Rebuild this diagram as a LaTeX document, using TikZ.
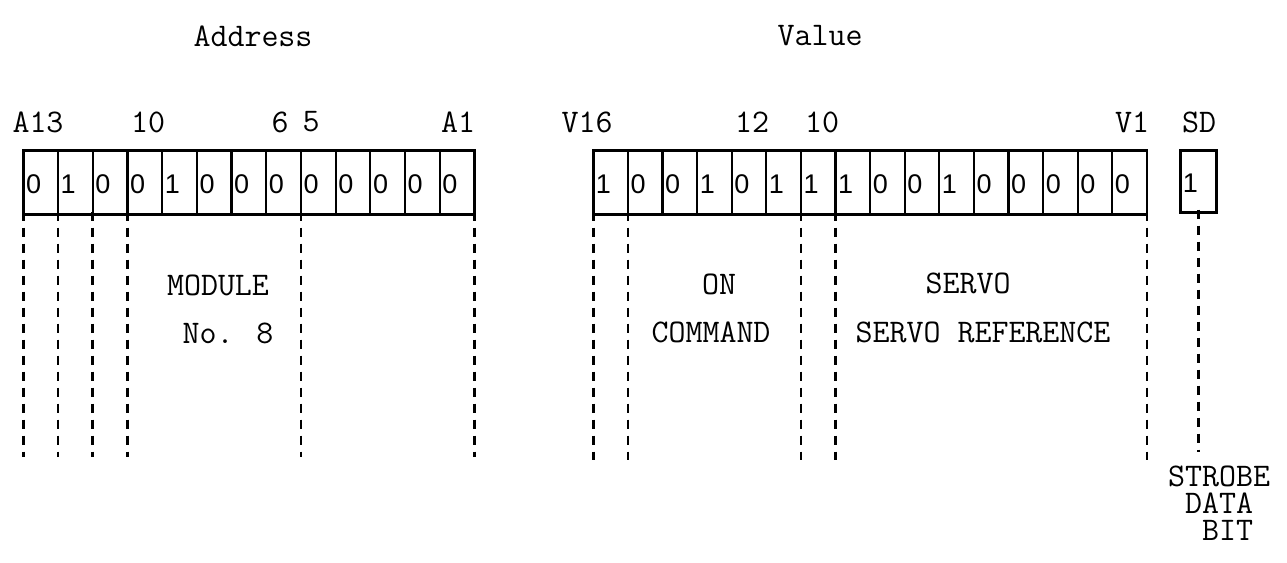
\documentclass[tikz,border=0pt]{standalone}
\usepackage{fontspec}
\newfontfamily\digfont{Liberation Sans}
\begin{document}
\begin{tikzpicture}[x=1pt,y=-1pt,
  tt/.style={font=\fontsize{33}{27}\selectfont\ttfamily, inner sep=0},
  bitcell/.style={draw, line width=2.2pt, minimum width=34.7pt, minimum height=64pt, inner sep=0, outer sep=0},
  dig/.style={font=\fontsize{27}{30}\selectfont\digfont, inner sep=0, anchor=west},
  dline/.style={line width=2.6pt, dash pattern=on 9pt off 7pt}]
\useasboundingbox (0,0) rectangle (1287,562);
% headings
\node[tt] (haddr) at (253,36) {Address};
\node[tt] (hval) at (820,36) {Value};
% address register
\foreach \d [count=\i] in {0,1,0,0,1,0,0,0,0,0,0,0,0} {
  \node[bitcell] (a\i) at ({23.3+(\i-1)*34.7+17.35},182.5) {};
  \node[dig] (ad\i) at ([xshift=2.5pt,yshift=-2pt]a\i.west) {\d};
}
\draw[line width=2.8pt] (a1.north west) rectangle (a13.south east);
% value register
\foreach \d [count=\i] in {1,0,0,1,0,1,1,1,0,0,1,0,0,0,0,0} {
  \node[bitcell] (v\i) at ({593.3+(\i-1)*34.6+17.3},182.5) {};
  \node[dig] (vd\i) at ([xshift=2.5pt,yshift=-2pt]v\i.west) {\d};
}
\draw[line width=2.8pt] (v1.north west) rectangle (v16.south east);
% SD bit
\node[bitcell, line width=2.8pt, minimum width=36.5pt, minimum height=62pt] (sd) at (1198.5,181.5) {};
\node[dig] (sdd) at ([xshift=2.5pt,yshift=-2pt]sd.west) {1};
% bit labels
\node[tt] (lA13) at (38,122) {A13};
\node[tt] (lA10) at (148,122) {10};
\node[tt] (lA6) at (280,122) {6};
\node[tt] (lA5) at (311,122) {5};
\node[tt] (lA1) at (458,122) {A1};
\node[tt] (lV16) at (587,122) {V16};
\node[tt] (lV12) at (752,122) {12};
\node[tt] (lV10) at (822,122) {10};
\node[tt] (lV1) at (1132,122) {V1};
\node[tt] (lSD) at (1199,122) {SD};
% bottom coordinates
\coordinate (abot) at (0,457);
\coordinate (vbot) at (0,460);
\coordinate (sbot) at (0,452);
% address dashed lines
\draw[dline] ([yshift=3pt]a1.south west) -- (a1.south west |- abot);
\draw[dline] ([yshift=3pt]a2.south west) -- (a2.south west |- abot);
\draw[dline] ([yshift=3pt]a3.south west) -- (a3.south west |- abot);
\draw[dline] ([yshift=3pt]a4.south west) -- (a4.south west |- abot);
\draw[dline] ([yshift=3pt]a9.south west) -- (a9.south west |- abot);
\draw[dline] ([yshift=3pt]a13.south east) -- (a13.south east |- abot);
% value dashed lines
\draw[dline] ([yshift=3pt]v1.south west) -- (v1.south west |- vbot);
\draw[dline] ([yshift=3pt]v2.south west) -- (v2.south west |- vbot);
\draw[dline] ([yshift=3pt]v7.south west) -- (v7.south west |- vbot);
\draw[dline] ([yshift=3pt]v8.south west) -- (v8.south west |- vbot);
\draw[dline] ([yshift=3pt]v16.south east) -- (v16.south east |- vbot);
% SD dashed line
\draw[dline] ([yshift=3pt]sd.south) -- (sd.south |- sbot);
% field texts
\node[tt] (tmod) at (218,285) {MODULE};
\node[tt] (tno) at (228,333) {No. 8};
\node[tt] (ton) at (719,284) {ON};
\node[tt] (tcmd) at (711,332) {COMMAND};
\node[tt] (tservo) at (968,283) {SERVO};
\node[tt] (tsref) at (983,332) {SERVO REFERENCE};
\node[tt, align=left, anchor=north west] (tstrobe) at (1168,466) {STROBE\\\ DATA\\\ \ BIT};
\end{tikzpicture}
\end{document}
